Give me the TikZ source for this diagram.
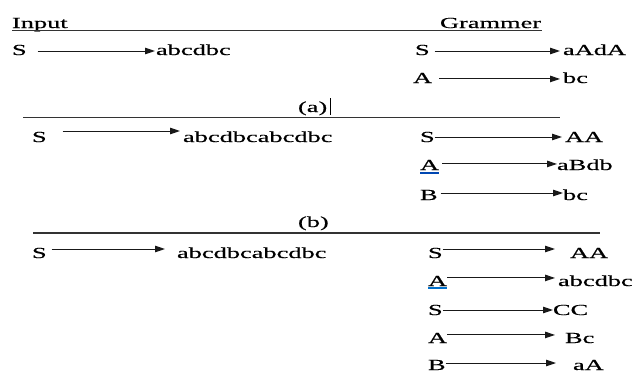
\documentclass[tikz,border=0pt]{standalone}
\usepackage{fontspec}
\setmainfont{Liberation Serif}[RawFeature={embolden=0.35}]
\usetikzlibrary{arrows.meta,calc}
\newcommand{\Tx}[1]{\scalebox{1.72}[1]{#1}}
\tikzset{
  txt/.style={inner sep=0pt, outer sep=0pt, anchor=base west, font=\fontsize{15.4}{18}\selectfont},
  arr/.style={draw=black!90, line width=1bp, -{Triangle[length=10bp,width=6.5bp]}},
  rule/.style={draw=black!80, line width=1.1bp},
  ul/.style={draw=blue!60!cyan!70!black, line width=1.4bp}
}
% horizontal arrow: source, target, gap after source, gap before target, vertical offset
\newcommand{\harr}[5]{%
  \path ($(#1.east)+(#3,#5)$) coordinate (hp);
  \path ($(#2.west)+(-#4,0)$) coordinate (hq);
  \draw[arr] (hp) -- (hp -| hq);}
\begin{document}
\begin{tikzpicture}[x=1bp,y=-1bp]
\useasboundingbox (0,0) rectangle (641,372);
% header
\node[txt] (inp) at (12,28) {\Tx{Input}};
\node[txt] (gra) at (440,28) {\Tx{Grammer}};
\draw[rule] (12,30.5) -- (542,30.5);
% block 1
\node[txt] (l1s) at (12,55) {\Tx{S}};
\node[txt] (l1t) at (156,55) {\Tx{abcdbc}};
\node[txt] (r1s) at (415,55) {\Tx{S}};
\node[txt] (r1t) at (563,55) {\Tx{aAdA}};
\node[txt] (r2s) at (413,83) {\Tx{A}};
\node[txt] (r2t) at (563,83) {\Tx{bc}};
\harr{l1s}{l1t}{11}{1}{1}
\harr{r1s}{r1t}{5}{3}{1}
\harr{r2s}{r2t}{7}{3}{1}
% (a)
\node[txt] (lba) at (298,112) {\Tx{(a)}};
\draw[black, line width=0.6bp] (330,98) -- (330,115);
\draw[rule] (23,117.5) -- (560,117.5);
% block 2
\node[txt] (l2s) at (32,142) {\Tx{S}};
\node[txt] (l2t) at (183,142) {\Tx{abcdbcabcdbc}};
\node[txt] (r3s) at (420,142) {\Tx{S}};
\node[txt] (r3t) at (565,142) {\Tx{AA}};
\node[txt] (r4s) at (420,170) {\Tx{A}};
\node[txt] (r4t) at (557,170) {\Tx{aBdb}};
\node[txt] (r5s) at (420,200) {\Tx{B}};
\node[txt] (r5t) at (563,200) {\Tx{bc}};
\draw[ul] ($(r4s.south west)+(0,3)$) -- ($(r4s.south east)+(0,3)$);
\harr{l2s}{l2t}{16}{3}{-6}
\harr{r3s}{r3t}{0}{3}{0}
\harr{r4s}{r4t}{3}{0}{-1}
\harr{r5s}{r5t}{3}{0}{-2}
% (b)
\node[txt] (lbb) at (298,227) {\Tx{(b)}};
\draw[rule] (33,233) -- (600,233);
% block 3
\node[txt] (l3s) at (32,258) {\Tx{S}};
\node[txt] (l3t) at (177,258) {\Tx{abcdbcabcdbc}};
\node[txt] (r6s) at (428,258) {\Tx{S}};
\node[txt] (r6t) at (570,258) {\Tx{AA}};
\node[txt] (r7s) at (428,286) {\Tx{A}};
\node[txt] (r7t) at (558,286) {\Tx{abcdbc}};
\node[txt] (r8s) at (428,315) {\Tx{S}};
\node[txt] (r8t) at (553,315) {\Tx{CC}};
\node[txt] (r9s) at (428,343) {\Tx{A}};
\node[txt] (r9t) at (565,343) {\Tx{Bc}};
\node[txt] (r10s) at (428,370) {\Tx{B}};
\node[txt] (r10t) at (573,370) {\Tx{aA}};
\draw[ul, draw=blue!45!cyan!80!black] ($(r7s.south west)+(0,1.8)$) -- ($(r7s.south east)+(0,1.8)$);
\harr{l3s}{l3t}{5}{12}{-4}
\harr{r6s}{r6t}{0}{15}{-4}
\harr{r7s}{r7t}{0}{3}{-3}
\harr{r8s}{r8t}{0}{0}{0}
\harr{r9s}{r9t}{0}{10}{-3}
\harr{r10s}{r10t}{0}{17}{-2}
\end{tikzpicture}
\end{document}
